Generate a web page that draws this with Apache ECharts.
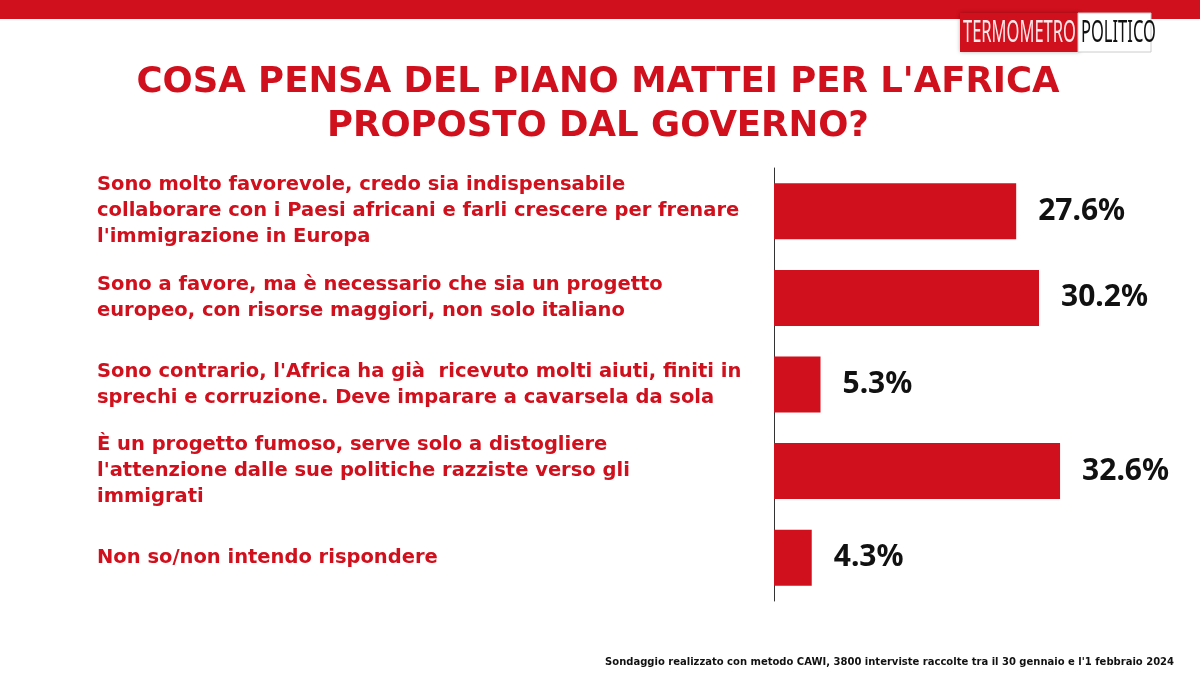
<!DOCTYPE html>
<html><head><meta charset="utf-8">
<script src="https://cdn.jsdelivr.net/npm/echarts@6/dist/echarts.min.js"></script>
<style>html,body{margin:0;padding:0;background:#fff}#c{width:1200px;height:674px}</style>
</head><body><div id="c"></div>
<script>
const categories = [
  "Sono molto favorevole, credo sia indispensabile\ncollaborare con i Paesi africani e farli crescere per frenare\nl'immigrazione in Europa",
  "Sono a favore, ma è necessario che sia un progetto\neuropeo, con risorse maggiori, non solo italiano",
  "Sono contrario, l'Africa ha già  ricevuto molti aiuti, finiti in\nsprechi e corruzione. Deve imparare a cavarsela da sola",
  "È un progetto fumoso, serve solo a distogliere\nl'attenzione dalle sue politiche razziste verso gli\nimmigrati",
  "Non so/non intendo rispondere"
];
const values = [27.6, 30.2, 5.3, 32.6, 4.3];
const titleText = "COSA PENSA DEL PIANO MATTEI PER L'AFRICA\nPROPOSTO DAL GOVERNO?";
const footnote = "Sondaggio realizzato con metodo CAWI, 3800 interviste raccolte tra il 30 gennaio e l'1 febbraio 2024";
const RED = '#d0101c';
const chart = echarts.init(document.getElementById('c'));
chart.setOption({
  backgroundColor: '#fff',
  animation: false,
  title: {text: titleText, left: 593, top: 56, textAlign: 'center',
    textStyle: {color: RED, fontSize: 35.5, fontWeight: 'bold', fontFamily: 'DejaVu Sans', lineHeight: 44}},
  graphic: [
    {type: 'rect', shape: {x: 0, y: 0, width: 1200, height: 19}, style: {fill: RED}},
    {type: 'rect', shape: {x: 960, y: 13, width: 120, height: 39}, style: {fill: RED, shadowBlur: 4, shadowColor: 'rgba(0,0,0,0.3)'}},
    {type: 'rect', shape: {x: 1078, y: 13, width: 73, height: 39}, style: {fill: '#fff', stroke: '#ccc', lineWidth: 1}},
    {type: 'text', x: 963, y: 18, scaleX: 0.55, style: {text: 'TERMOMETRO', fill: '#ffe8ea', font: '30px "Noto Sans"'}},
    {type: 'text', x: 1081, y: 18, scaleX: 0.55, style: {text: 'POLITICO', fill: '#111', font: '30px "Noto Sans"'}},
    {type: 'text', x: 1174, y: 657, style: {text: footnote, fill: '#111', font: 'bold 10px "DejaVu Sans"', align: 'right'}}
  ],
  grid: {left: 774, right: 75, top: 168, height: 433},
  xAxis: {type: 'value', min: 0, max: 40, show: false},
  yAxis: {type: 'category', data: categories, inverse: true,
    axisLine: {show: true, lineStyle: {color: '#333', width: 1}},
    axisTick: {show: false},
    axisLabel: {align: 'left', margin: 677, color: RED, fontSize: 19.5, fontWeight: 'bold', fontFamily: 'DejaVu Sans', lineHeight: 26, padding: [10, 0, 0, 0]}},
  series: [{type: 'bar', data: values, barWidth: 56, itemStyle: {color: RED},
    label: {show: true, position: 'right', distance: 22, formatter: p => p.value.toFixed(1) + '%',
      color: '#111', fontSize: 30, fontWeight: 'bold', fontFamily: 'Noto Sans'}}]
});
</script></body></html>
